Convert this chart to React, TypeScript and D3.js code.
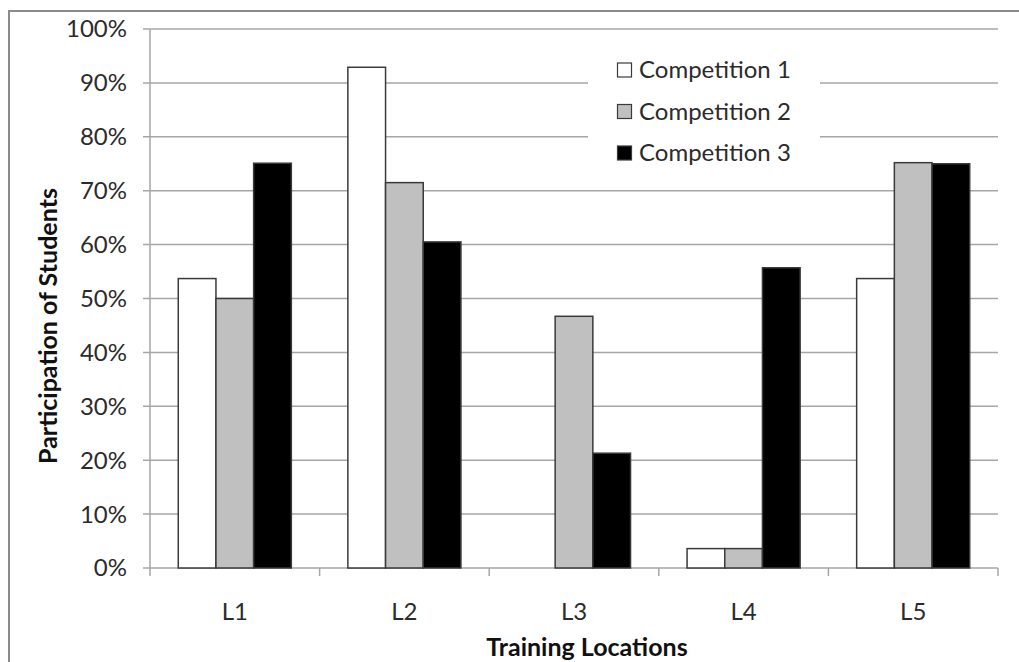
import React from "react";
import * as d3 from "d3";

const locations = ["L1", "L2", "L3", "L4", "L5"];
const seriesNames = ["Competition 1", "Competition 2", "Competition 3"];
const competition1 = [0.537, 0.929, 0, 0.036, 0.537];
const competition2 = [0.5, 0.715, 0.467, 0.036, 0.752];
const competition3 = [0.751, 0.605, 0.213, 0.557, 0.75];
const yTicks = [0, 0.1, 0.2, 0.3, 0.4, 0.5, 0.6, 0.7, 0.8, 0.9, 1.0];
const fills = ["#ffffff", "#c0c0c0", "#000000"];

const W = 1019;
const H = 662;
const FONT = "Lato, 'Open Sans', sans-serif";

export default function App() {
  const series = [competition1, competition2, competition3];
  const left = 150;
  const right = 998;
  const top = 29;
  const bottom = 568;

  const x0 = d3.scaleBand<string>().domain(locations).range([left, right]).padding(0);
  const x1 = d3
    .scaleBand<string>()
    .domain(seriesNames)
    .range([0, x0.bandwidth()])
    .paddingInner(0)
    .paddingOuter(0.75);
  const y = d3.scaleLinear().domain([0, 1]).range([bottom, top]);
  const fmt = d3.format(".0%");

  const gridColor = "#a6a6a6";
  const textColor = "#2b2b2b";

  return (
    <svg
      width={W}
      height={H}
      style={{ position: "absolute", left: 0, top: 0, background: "#fff" }}
      fontFamily={FONT}
    >
      {/* chart frame */}
      <path d={`M9,${H + 5}V11H${W + 5}`} fill="none" stroke="#8a8a8a" strokeWidth={2} />

      {/* gridlines and y ticks */}
      {yTicks.map((t) => (
        <g key={t}>
          <line x1={left - 7} x2={right} y1={y(t)} y2={y(t)} stroke={gridColor} strokeWidth={1.5} />
          <text
            x={left - 23}
            y={y(t)}
            dy="0.35em"
            textAnchor="end"
            fontSize={24}
            fill={textColor}
          >
            {fmt(t)}
          </text>
        </g>
      ))}

      {/* y axis line */}
      <line x1={left} x2={left} y1={top} y2={bottom + 8} stroke={gridColor} strokeWidth={1.5} />

      {/* x ticks */}
      {locations.map((c) => (
        <line
          key={"t" + c}
          x1={x0(c)! + x0.bandwidth()}
          x2={x0(c)! + x0.bandwidth()}
          y1={bottom}
          y2={bottom + 8}
          stroke={gridColor}
          strokeWidth={1.5}
        />
      ))}

      {/* bars */}
      {locations.map((c, i) => (
        <g key={c} transform={`translate(${x0(c)},0)`}>
          {series.map((vals, s) =>
            vals[i] > 0 ? (
              <rect
                key={s}
                x={x1(seriesNames[s])}
                y={y(vals[i])}
                width={x1.bandwidth()}
                height={bottom - y(vals[i])}
                fill={fills[s]}
                stroke="#3a3a3a"
                strokeWidth={1.5}
              />
            ) : null
          )}
        </g>
      ))}

      {/* category labels */}
      {locations.map((c) => (
        <text
          key={"l" + c}
          x={x0(c)! + x0.bandwidth() / 2}
          y={612}
          dy="0.35em"
          textAnchor="middle"
          fontSize={24}
          fill={textColor}
        >
          {c}
        </text>
      ))}

      {/* axis titles */}
      <text
        x={587}
        y={647}
        dy="0.35em"
        textAnchor="middle"
        fontSize={25}
        fontWeight="bold"
        fill="#111"
      >
        Training Locations
      </text>
      <text
        transform={`translate(48,326) rotate(-90)`}
        dy="0.35em"
        textAnchor="middle"
        fontSize={25}
        fontWeight="bold"
        fill="#111"
      >
        Participation of Students
      </text>

      {/* legend */}
      <rect x={588} y={50} width={232} height={130} fill="#fff" />
      {seriesNames.map((n, s) => {
        const cy = 70 + s * 41.5;
        return (
          <g key={n}>
            <rect
              x={617.5}
              y={cy - 7}
              width={14}
              height={14}
              fill={fills[s]}
              stroke="#3a3a3a"
              strokeWidth={1.2}
            />
            <text x={639} y={cy} dy="0.35em" fontSize={24} fill={textColor}>
              {n}
            </text>
          </g>
        );
      })}
    </svg>
  );
}
